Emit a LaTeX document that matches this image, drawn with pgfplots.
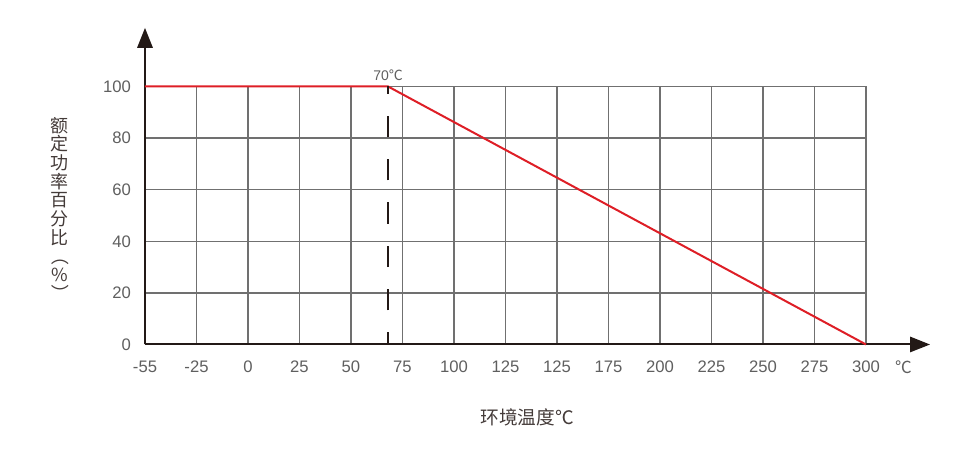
\documentclass[border=0pt]{standalone}
\usepackage{pgfplots}
\pgfplotsset{compat=1.18}
\usetikzlibrary{arrows.meta}
\usepackage{graphicx}
\usepackage{fontspec}
\setmainfont{Liberation Sans}
\newfontfamily\cjk{Noto Sans CJK SC}

\definecolor{gridgray}{RGB}{112,112,112}
\definecolor{axisblack}{RGB}{35,25,22}
\definecolor{linered}{RGB}{222,30,38}
\definecolor{labelgray}{RGB}{95,95,95}

\begin{document}
\begin{tikzpicture}
\useasboundingbox (-108.75pt,-80.625pt) rectangle (617.25pt,258.375pt);
\begin{axis}[
    scale only axis,
    width=540.75pt, height=193.5pt,
    at={(0pt,0pt)}, anchor=south west,
    xmin=0, xmax=14, ymin=0, ymax=100,
    axis x line=bottom, axis y line=left,
    x axis line style={axisblack, line width=1.5pt, shorten >=-48pt,
        -{Triangle[length=15pt,width=11.5pt]}},
    y axis line style={axisblack, line width=1.5pt, shorten >=-44pt,
        -{Triangle[length=15pt,width=11.5pt]}},
    xtick={0,...,14},
    xticklabels={-55,-25,0,25,50,75,100,125,125,175,200,225,250,275,300},
    ytick={0,20,40,60,80,100},
    /pgf/number format/assume math mode=true,
    major tick length=0pt,
    grid=major,
    major grid style={gridgray, line width=1.1pt},
    tick label style={labelgray, font=\fontsize{12.5}{14}\selectfont},
    xticklabel style={yshift=-9pt},
    yticklabel style={xshift=-7pt},
    clip=false,
]
\addplot[linered, line width=1.5pt] coordinates {(0,100) (4.72,100) (14,0)};
\addplot[axisblack, line width=1.6pt, dash pattern=on 16pt off 16.5pt, dash phase=7pt]
    coordinates {(4.72,0) (4.72,100)};
\node[anchor=south, inner sep=0pt, yshift=4.5pt, labelgray,
      font=\fontsize{10.5}{12}\selectfont] at (axis cs:4.72,100) {70{\cjk ℃}};
\node[anchor=north, labelgray, yshift=-9pt, xshift=28pt,
      font=\fontsize{12.5}{14}\selectfont] at (axis cs:14,0) {\cjk ℃};
\end{axis}
\node[align=center, font=\cjk\fontsize{13.5}{14}\selectfont, text=axisblack!85]
    at (-63.75pt,101pt)
    {额\\定\\功\\率\\百\\分\\比\\\rotatebox[origin=c]{-90}{（}\\\%\\\rotatebox[origin=c]{-90}{）}};
\node[font=\cjk\fontsize{14}{16}\selectfont, text=axisblack!85]
    at (286.5pt,-54.4pt) {环境温度℃};
\end{tikzpicture}
\end{document}
